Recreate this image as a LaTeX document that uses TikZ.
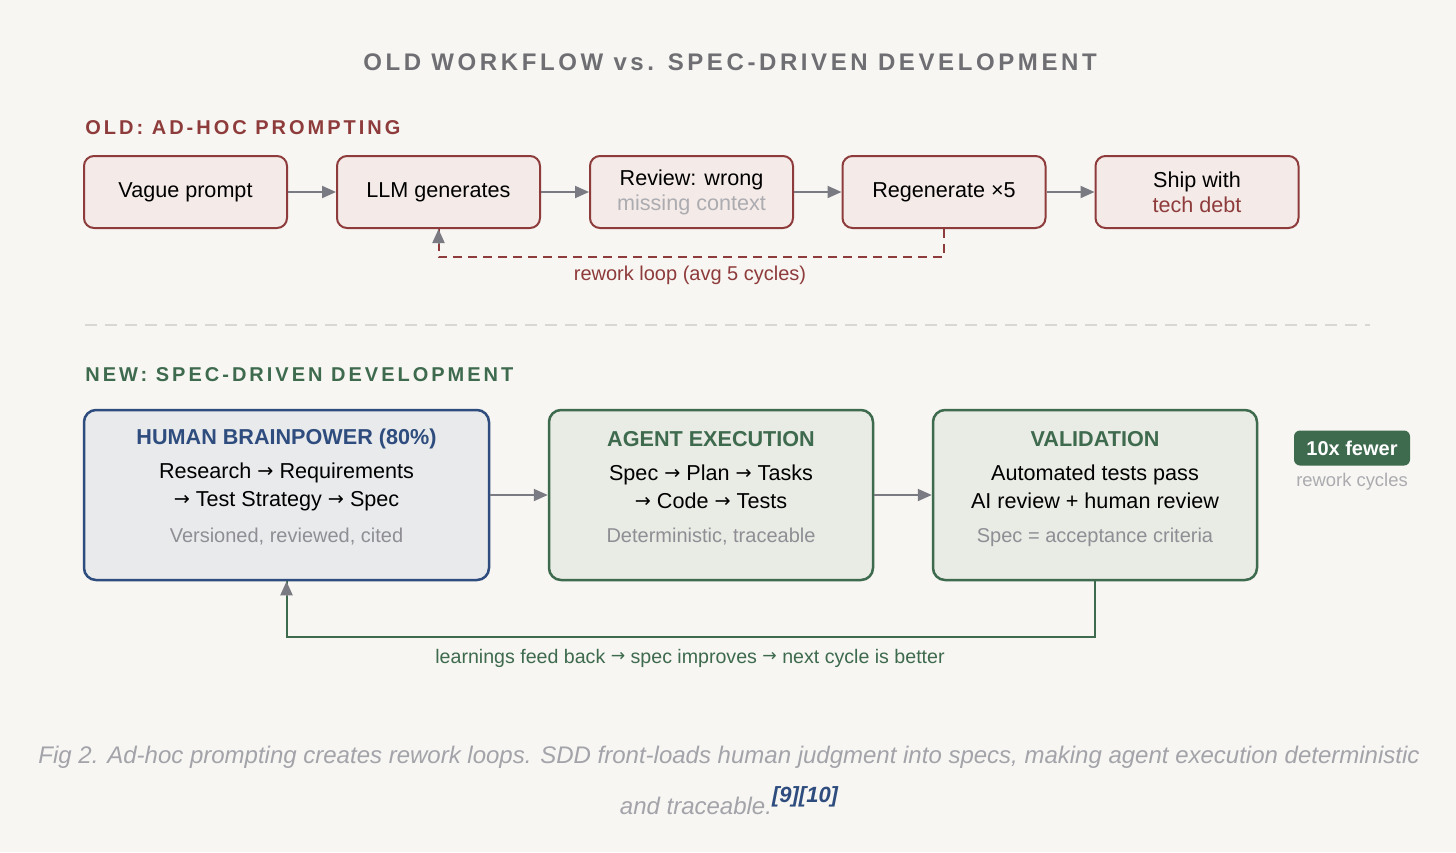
\documentclass[tikz,border=0pt]{standalone}
\usepackage{fontspec}
\setmainfont{Liberation Sans}
\newfontfamily\trackedfont[LetterSpace=15]{Liberation Sans}
\newfontfamily\arrowfont{DejaVu Sans}
\usetikzlibrary{positioning,arrows.meta}

\definecolor{bgcol}{HTML}{F7F6F2}
\definecolor{oldred}{HTML}{8E3B3B}
\definecolor{oldfill}{HTML}{F4EBE8}
\definecolor{newgreen}{HTML}{3E6A4E}
\definecolor{greenfill}{HTML}{E9EBE5}
\definecolor{humanblue}{HTML}{2E4D7E}
\definecolor{bluefill}{HTML}{E9EAEC}
\definecolor{arrowgrey}{HTML}{7A7A82}
\definecolor{titlegrey}{HTML}{6E6E73}
\definecolor{softgrey}{HTML}{8E8E94}
\definecolor{palegrey}{HTML}{ABABB0}
\definecolor{capgrey}{HTML}{A3A3AA}
\definecolor{sepgrey}{HTML}{D8D7D3}

% small text arrow
\newcommand{\ra}[1][9.6]{{\arrowfont\fontsize{#1}{#1}\selectfont\raisebox{0.6pt}{→}}}

\tikzset{
  oldbox/.style={draw=oldred, fill=oldfill, line width=1pt, rounded corners=5pt,
    minimum width=101.5pt, minimum height=36pt, inner sep=0pt, align=center,
    font=\fontsize{10.8}{12.5}\selectfont},
  newbox/.style={line width=1.25pt, rounded corners=6pt, minimum height=85pt, inner sep=0pt},
  boxhead/.style={font=\fontsize{10.8}{12}\selectfont\bfseries},
  boxbody/.style={align=center, font=\fontsize{10.8}{14}\selectfont},
  boxnote/.style={text=softgrey, font=\fontsize{10}{11}\selectfont},
  flow/.style={arrowgrey, line width=1pt, -{Triangle[length=7pt,width=6pt]}},
  section/.style={anchor=west, inner sep=0pt, font=\trackedfont\bfseries\fontsize{10}{11}\selectfont}
}

\begin{document}
\begin{tikzpicture}[x=0.5pt,y=-0.5pt]
\fill[bgcol] (0,0) rectangle (1456,852);
\useasboundingbox (0,0) rectangle (1456,852);

% title
\node[text=titlegrey, font=\trackedfont\bfseries\fontsize{12}{13}\selectfont] (title) at (730,62) {OLD WORKFLOW vs. SPEC-DRIVEN DEVELOPMENT};

% old workflow
\node[section, text=oldred] (oldhead) at (85,128) {OLD: AD-HOC PROMPTING};
\node[oldbox] (vague) at (185.5,192) {\raisebox{-2pt}{Vague prompt}};
\node[oldbox] (llm) at (438.5,192) {\raisebox{-2pt}{LLM generates}};
\node[oldbox] (review) at (691.5,192) {Review: wrong\\{\color{palegrey}missing context}};
\node[oldbox] (regen) at (944,192) {\raisebox{-2pt}{Regenerate ×5}};
\node[oldbox] (ship) at (1197,192) {Ship with\\{\color{oldred}tech debt}};
\draw[flow] (vague) -- (llm);
\draw[flow] (llm) -- (review);
\draw[flow] (review) -- (regen);
\draw[flow] (regen) -- (ship);
\draw[oldred, line width=1pt, dash pattern=on 4.5pt off 3pt] (regen.south) -- ++(0,28) -| (llm.south);
\draw[flow] (llm.south) ++(0,14) -- (llm.south);
\node[text=oldred, font=\fontsize{10}{11}\selectfont] (reworklbl) at (690,275) {rework loop (avg 5 cycles)};

% divider
\draw[sepgrey, line width=0.75pt, dash pattern=on 6pt off 4pt] (85,325) -- (1370,325);

% new workflow
\node[section, text=newgreen] (newhead) at (85,375) {NEW: SPEC-DRIVEN DEVELOPMENT};
\node[newbox, draw=humanblue, fill=bluefill, minimum width=202.5pt] (human) at (286.5,495) {};
\node[boxhead, text=humanblue] (humantitle) at (286.5,439) {HUMAN BRAINPOWER (80\%)};
\node[boxbody] (humantext) at (286.5,487) {Research \ra{} Requirements\\\ra{} Test Strategy \ra{} Spec};
\node[boxnote] (humannote) at (286.5,537) {Versioned, reviewed, cited};

\node[newbox, draw=newgreen, fill=greenfill, minimum width=162pt] (agent) at (711,495) {};
\node[boxhead, text=newgreen] (agenttitle) at (711,439) {AGENT EXECUTION};
\node[boxbody] (agenttext) at (711,487) {Spec \ra{} Plan \ra{} Tasks\\\ra{} Code \ra{} Tests};
\node[boxnote] (agentnote) at (711,537) {Deterministic, traceable};

\node[newbox, draw=newgreen, fill=greenfill, minimum width=162pt] (valid) at (1095,495) {};
\node[boxhead, text=newgreen] (validtitle) at (1095,439) {VALIDATION};
\node[boxbody] (validtext) at (1095,487) {Automated tests pass\\AI review + human review};
\node[boxnote] (validnote) at (1095,537) {Spec = acceptance criteria};

\draw[flow] (human) -- (agent);
\draw[flow] (agent) -- (valid);

\node[fill=newgreen, text=white, rounded corners=3pt, minimum width=58pt, minimum height=17.5pt,
  font=\fontsize{10}{11}\selectfont\bfseries] (badge) at (1352,448) {10x fewer};
\node[text=palegrey, font=\fontsize{9.2}{10}\selectfont] (badgenote) at (1352,482) {rework cycles};

\draw[newgreen, line width=1pt] (valid.south) -- ++(0,56) -| (human.south);
\draw[flow] (human.south) ++(0,14) -- (human.south);
\node[text=newgreen, font=\fontsize{9.8}{11}\selectfont] (feedlbl) at (690,658) {learnings feed back \ra[8.6] spec improves \ra[8.6] next cycle is better};

% caption
\node[text=capgrey, font=\itshape\fontsize{12}{13}\selectfont] (caption1) at (729,757) {Fig 2. Ad-hoc prompting creates rework loops. SDD front-loads human judgment into specs, making agent execution deterministic};
\node[text=capgrey, font=\itshape\fontsize{12}{13}\selectfont] (caption2) at (729,801) {and traceable.\raisebox{0.5em}{\fontsize{11}{12}\selectfont\bfseries\color{humanblue}[9][10]}};
\end{tikzpicture}
\end{document}
